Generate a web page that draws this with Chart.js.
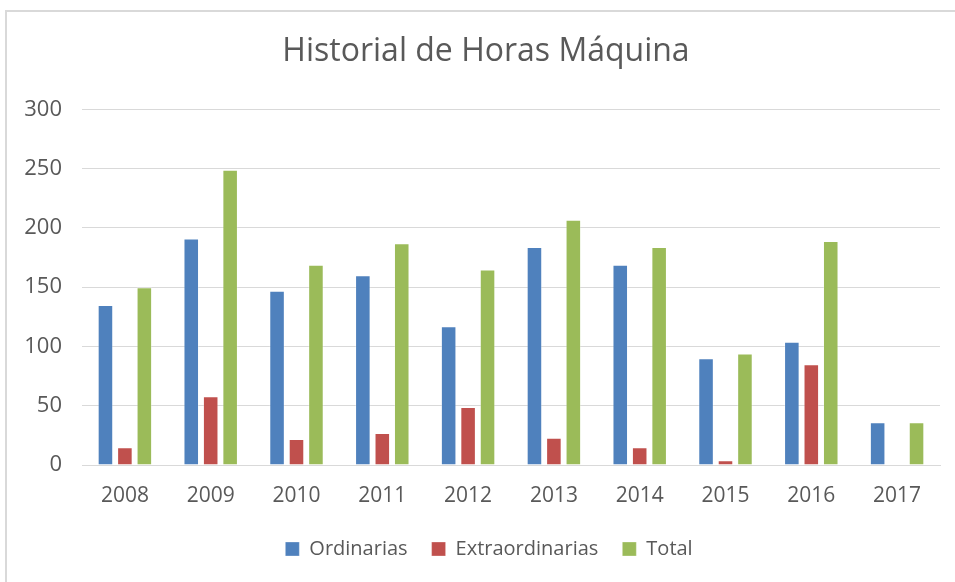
<!DOCTYPE html>
<html>
<head>
<meta charset="utf-8">
<script src="https://cdn.jsdelivr.net/npm/chart.js@4/dist/chart.umd.min.js"></script>
<style>
  html, body { margin: 0; padding: 0; background: #ffffff; overflow: hidden; }
  #frame { position: absolute; left: 5px; top: 10px; width: 1000px; height: 1000px; border: 2px solid #d9d9d9; box-sizing: border-box; }
  #wrap { position: absolute; left: 0; top: 0; width: 955px; height: 582px; }
</style>
</head>
<body>
<div id="frame"></div>
<div id="wrap"><canvas id="c" width="955" height="582"></canvas></div>
<script>
const categories = ['2008', '2009', '2010', '2011', '2012', '2013', '2014', '2015', '2016', '2017'];
const ordinarias = [135, 191, 147, 160, 117, 184, 169, 90, 104, 36];
const extraordinarias = [15, 58, 22, 27, 49, 23, 15, 4, 85, 0];
const total = [150, 249, 169, 187, 165, 207, 184, 94, 189, 36];
const seriesNames = ['Ordinarias', 'Extraordinarias', 'Total'];
const chartTitle = 'Historial de Horas Máquina';

const textColor = '#595959';
const fontFamily = '"Open Sans", "Liberation Sans", sans-serif';

// nudge title and legend horizontally to match the reference centring
const shiftBoxes = {
  id: 'shiftBoxes',
  afterLayout(chart) {
    if (chart.titleBlock) { chart.titleBlock.left += 7; chart.titleBlock.right += 7; }
    if (chart.legend) { chart.legend.left += 10; chart.legend.right += 10; }
  }
};

new Chart(document.getElementById('c'), {
  type: 'bar',
  data: {
    labels: categories,
    datasets: [
      { label: seriesNames[0], data: ordinarias, backgroundColor: '#4F81BD', borderColor: 'rgba(255,255,255,0.3)', borderWidth: 1 },
      { label: seriesNames[1], data: extraordinarias, backgroundColor: '#C0504D', borderColor: 'rgba(255,255,255,0.3)', borderWidth: 1 },
      { label: seriesNames[2], data: total, backgroundColor: '#9BBB59', borderColor: 'rgba(255,255,255,0.3)', borderWidth: 1 }
    ]
  },
  plugins: [shiftBoxes],
  options: {
    responsive: false,
    animation: false,
    devicePixelRatio: 1,
    categoryPercentage: 0.68,
    barPercentage: 0.8,
    layout: { padding: { left: 18, right: 15, top: 10, bottom: 13 } },
    plugins: {
      title: {
        display: true,
        text: chartTitle,
        color: textColor,
        font: { family: fontFamily, size: 32, weight: 'normal' },
        padding: { top: 23, bottom: 38 }
      },
      legend: {
        position: 'bottom',
        labels: {
          color: textColor,
          font: { family: fontFamily, size: 20 },
          boxWidth: 14,
          boxHeight: 14,
          padding: 24
        }
      },
      tooltip: { enabled: false }
    },
    scales: {
      x: {
        grid: { display: false, drawTicks: false },
        border: { display: true, color: '#d9d9d9', width: 1 },
        ticks: { color: textColor, font: { family: fontFamily, size: 21 }, padding: 18, maxRotation: 0 },
        afterFit: (s) => { s.height = 50; }
      },
      y: {
        min: 0,
        max: 300,
        ticks: { stepSize: 50, color: textColor, font: { family: fontFamily, size: 22 }, padding: 20 },
        grid: { color: '#d9d9d9', lineWidth: 1, drawTicks: false },
        border: { display: false },
        afterFit: (s) => { s.width = 64; }
      }
    }
  }
});
</script>
</body>
</html>
